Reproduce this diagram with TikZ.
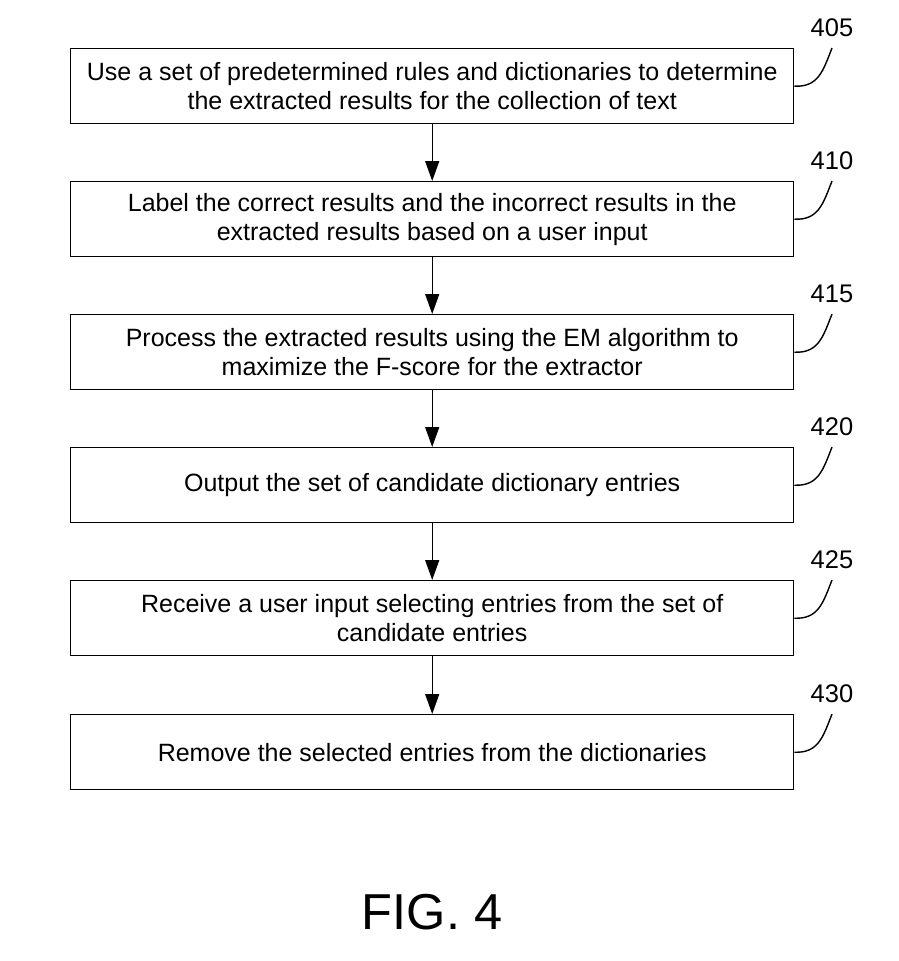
\documentclass[tikz,border=0pt]{standalone}
\usepackage{fontspec}
\setmainfont{Liberation Sans}
\usetikzlibrary{arrows.meta}
\begin{document}
\begin{tikzpicture}[x=1pt,y=-1pt,
  stepbox/.style={draw,line width=1.4pt,minimum width=723pt,minimum height=75pt,align=center,font=\fontsize{25}{29}\selectfont,inner sep=0pt,anchor=north west},
  reflabel/.style={font=\fontsize{25.5}{27}\selectfont,inner sep=0pt},
  flow/.style={line width=1.4pt,-{Triangle[length=20pt,width=14pt]}},
  squig/.style={line width=1.4pt}]
\useasboundingbox (0,0) rectangle (898,961);
\node[stepbox] (b1) at (70,48) {Use a set of predetermined rules and dictionaries to determine\\the extracted results for the collection of text};
\node[stepbox] (b2) at (70,181) {Label the correct results and the incorrect results in the\\extracted results based on a user input};
\node[stepbox] (b3) at (70,314) {Process the extracted results using the EM algorithm to\\maximize the F-score for the extractor};
\node[stepbox] (b4) at (70,447) {Output the set of candidate dictionary entries};
\node[stepbox] (b5) at (70,580) {Receive a user input selecting entries from the set of\\candidate entries};
\node[stepbox] (b6) at (70,714) {Remove the selected entries from the dictionaries};
\foreach \a/\b in {b1/b2,b2/b3,b3/b4,b4/b5,b5/b6}{
  \draw[flow] (\a.south) -- (\b.north);
}
\foreach \n/\t/\y in {b1/405/28,b2/410/161,b3/415/294,b4/420/427,b5/425/560,b6/430/694}{
  \node[reflabel] (l\n) at (832,\y) {\t};
  \coordinate (e\n) at (832,\y+20);
  \draw[squig] (\n.east) .. controls ++(24,1) and ++(-9,23) .. (e\n);
}
\node[font=\fontsize{50.5}{52}\selectfont,inner sep=0pt] (fig) at (432,912) {FIG. 4};
\end{tikzpicture}
\end{document}
